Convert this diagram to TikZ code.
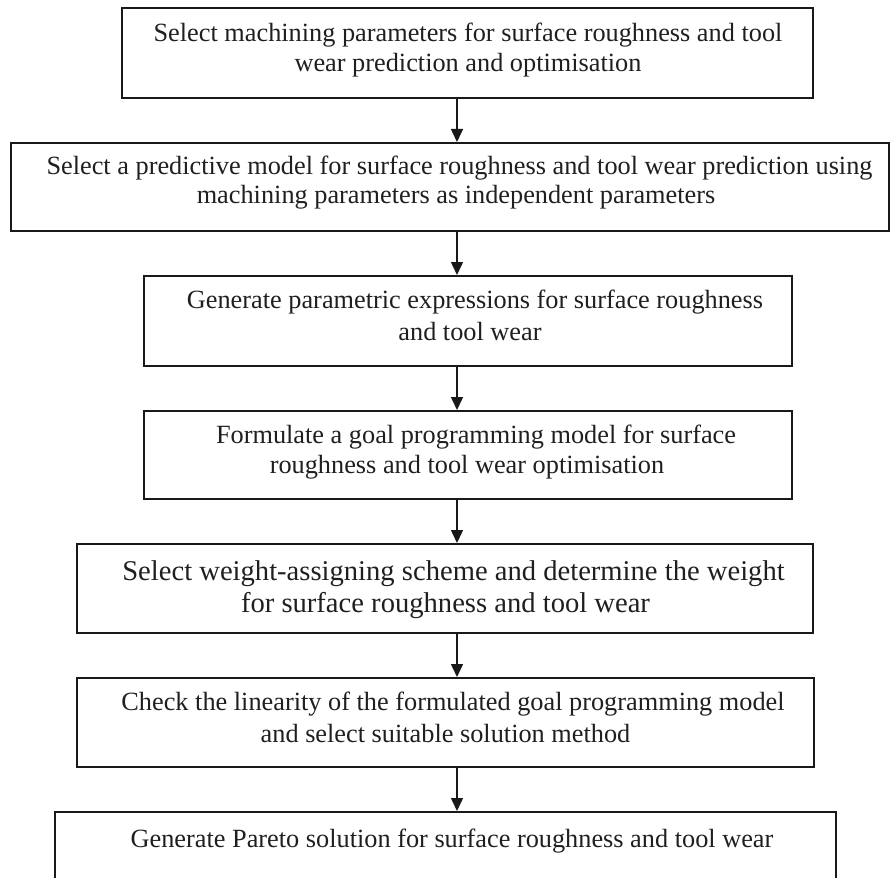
\documentclass[tikz,border=0pt]{standalone}
\usepackage{fontspec}
\setmainfont{Liberation Serif}
\usetikzlibrary{arrows.meta}
\begin{document}
\begin{tikzpicture}[x=1pt,y=-1pt,
  stepbox/.style={draw=black!90,line width=2pt,rectangle,inner sep=0pt,fill=none},
  txt/.style={inner sep=0pt,anchor=base,text=black!88,font=\fontsize{26.3}{30}\selectfont},
  bigtxt/.style={txt,font=\fontsize{28.6}{32}\selectfont},
  arr/.style={draw=black!90,line width=1.5pt,-{Triangle[length=13pt,width=12pt]}}]
\useasboundingbox (0,0) rectangle (890,877);
\begin{scope}
\clip (0,0) rectangle (890,877);
\node[stepbox,minimum width=691pt,minimum height=90pt] (b1) at (467.5,53) {};
\node[stepbox,minimum width=878pt,minimum height=88pt] (b2) at (450,187) {};
\node[stepbox,minimum width=648pt,minimum height=90pt] (b3) at (468,321) {};
\node[stepbox,minimum width=648pt,minimum height=88pt] (b4) at (468,455) {};
\node[stepbox,minimum width=736pt,minimum height=89pt] (b5) at (445,588.5) {};
\node[stepbox,minimum width=737pt,minimum height=89pt] (b6) at (445.5,722.5) {};
\node[stepbox,minimum width=781pt,minimum height=90pt] (b7) at (445.5,857) {};

\node[txt] (t1a) at (468,42) {Select machining parameters for surface roughness and tool};
\node[txt] (t1b) at (468,72) {wear prediction and optimisation};
\node[txt] (t2a) at (459.5,175) {Select a predictive model for surface roughness and tool wear prediction using};
\node[txt] (t2b) at (456,204) {machining parameters as independent parameters};
\node[txt] (t3a) at (475,308) {Generate parametric expressions for surface roughness};
\node[txt] (t3b) at (470,340) {and tool wear};
\node[txt] (t4a) at (476,443) {Formulate a goal programming model for surface};
\node[txt] (t4b) at (467,473) {roughness and tool wear optimisation};
\node[bigtxt] (t5a) at (453.5,580) {Select weight-assigning scheme and determine the weight};
\node[bigtxt] (t5b) at (445.5,612) {for surface roughness and tool wear};
\node[txt] (t6a) at (453,710) {Check the linearity of the formulated goal programming model};
\node[txt] (t6b) at (445.5,742) {and select suitable solution method};
\node[txt] (t7a) at (452,847) {Generate Pareto solution for surface roughness and tool wear};

\coordinate (ax) at (457,0);
\draw[arr] (b1.south -| ax) -- (b2.north -| ax);
\draw[arr] (b2.south -| ax) -- (b3.north -| ax);
\draw[arr] (b3.south -| ax) -- (b4.north -| ax);
\draw[arr] (b4.south -| ax) -- (b5.north -| ax);
\draw[arr] (b5.south -| ax) -- (b6.north -| ax);
\draw[arr] (b6.south -| ax) -- (b7.north -| ax);
\end{scope}
\end{tikzpicture}
\end{document}
